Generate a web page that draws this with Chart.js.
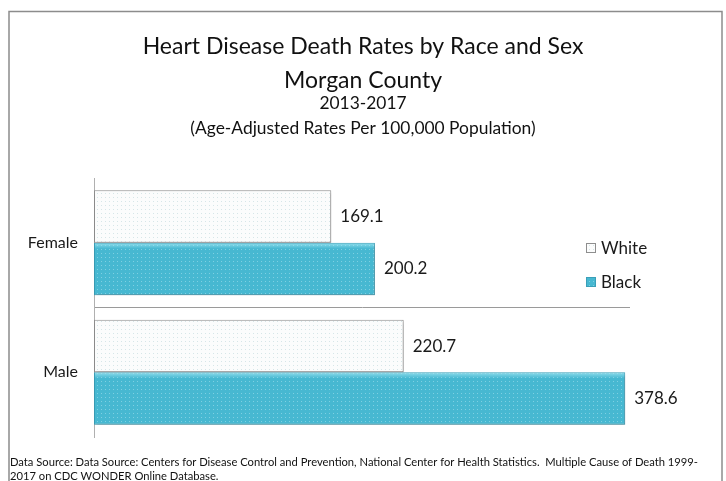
<!DOCTYPE html>
<html>
<head>
<meta charset="utf-8">
<script src="https://cdn.jsdelivr.net/npm/chart.js@4/dist/chart.umd.min.js"></script>
<style>
  html, body { margin: 0; padding: 0; background: #ffffff; }
  #wrap { width: 726px; height: 481px; position: relative; }
</style>
</head>
<body>
<div id="wrap"><canvas id="c" width="726" height="481"></canvas></div>
<script>
// Heart disease death rates, Morgan County, 2013-2017 (age-adjusted per 100,000)
const categories = ['Female', 'Male'];
const seriesNames = ['White', 'Black'];
const whiteRates = [169.1, 220.7];
const blackRates = [200.2, 378.6];

const titleLines = ['Heart Disease Death Rates by Race and Sex', 'Morgan County'];
const subtitleLines = ['2013-2017', '(Age-Adjusted Rates Per 100,000 Population)'];
const footerLines = [
  'Data Source: Data Source: Centers for Disease Control and Prevention, National Center for Health Statistics.  Multiple Cause of Death 1999-',
  '2017 on CDC WONDER Online Database.'
];

const FONT = 'Lato, "Open Sans", "Noto Sans", sans-serif';

// small dotted tiles used as bar fills
function dotPattern(base, dot) {
  const t = document.createElement('canvas');
  t.width = 4; t.height = 4;
  const g = t.getContext('2d');
  g.fillStyle = base; g.fillRect(0, 0, 4, 4);
  g.fillStyle = dot; g.fillRect(1, 1, 1, 1);
  return g.createPattern(t, 'repeat');
}
const ctx = document.getElementById('c').getContext('2d');
const whiteFill = dotPattern('#fbfcfc', '#d6e6e8');
const blackFill = dotPattern('#47b8d1', '#7fd0e2');

// outer frame, footer text and a soft drop shadow under the bars
const framePlugin = {
  id: 'frame',
  beforeDraw(chart) {
    const c = chart.ctx;
    c.save();
    c.strokeStyle = '#8c8c8c';
    c.lineWidth = 1.5;
    c.strokeRect(9, 11.5, 713, 480);
    c.restore();
  },
  beforeDatasetsDraw(chart) {
    const c = chart.ctx;
    c.save();
    c.shadowColor = 'rgba(0,0,0,0.2)';
    c.shadowOffsetY = 2;
    c.shadowOffsetX = 1;
    c.shadowBlur = 3;
  },
  afterDatasetsDraw(chart) {
    chart.ctx.restore();
  },
  afterDraw(chart) {
    const c = chart.ctx;
    c.save();
    c.fillStyle = '#111111';
    c.font = '11.2px ' + FONT;
    c.textBaseline = 'middle';
    c.textAlign = 'left';
    c.fillText(footerLines[0], 10, 462);
    c.fillText(footerLines[1], 10, 476);
    c.restore();
  }
};

// soft top highlight on the teal bars
const sheenPlugin = {
  id: 'sheen',
  afterDatasetDraw(chart, args) {
    if (args.index !== 1) return;
    const c = chart.ctx;
    c.save();
    c.shadowColor = 'rgba(0,0,0,0)';
    chart.getDatasetMeta(1).data.forEach(bar => {
      const top = bar.y - bar.height / 2;
      const left = Math.min(bar.x, bar.base);
      const w = Math.abs(bar.x - bar.base);
      const g = c.createLinearGradient(0, top, 0, top + 6);
      g.addColorStop(0, 'rgba(170,235,246,0.75)');
      g.addColorStop(1, 'rgba(170,235,246,0)');
      c.fillStyle = g;
      c.fillRect(left + 1, top + 1, w - 2, 6);
    });
    c.restore();
  }
};

// value labels beside each bar
const valueLabels = {
  id: 'valueLabels',
  afterDatasetsDraw(chart) {
    const c = chart.ctx;
    c.save();
    c.fillStyle = '#1a1a1a';
    c.font = '17px ' + FONT;
    c.textBaseline = 'middle';
    c.textAlign = 'left';
    chart.data.datasets.forEach((ds, i) => {
      chart.getDatasetMeta(i).data.forEach((bar, j) => {
        c.fillText(ds.data[j].toFixed(1), bar.x + 9, bar.y);
      });
    });
    c.restore();
  }
};

// legend placed inside the plot on the right
const sideLegend = {
  id: 'sideLegend',
  afterDraw(chart) {
    const c = chart.ctx;
    const rows = [248, 282];
    c.save();
    c.font = '17px ' + FONT;
    c.textBaseline = 'middle';
    c.textAlign = 'left';
    chart.data.datasets.forEach((ds, i) => {
      const y = rows[i];
      c.fillStyle = ds.backgroundColor;
      c.fillRect(586, y - 5, 10, 10);
      c.strokeStyle = ds.borderColor;
      c.lineWidth = 1;
      c.strokeRect(586.5, y - 4.5, 9, 9);
      c.fillStyle = '#1a1a1a';
      c.fillText(ds.label, 601, y + 1);
    });
    c.restore();
  }
};

new Chart(ctx, {
  type: 'bar',
  data: {
    labels: categories,
    datasets: [
      {
        label: seriesNames[0],
        data: whiteRates,
        backgroundColor: whiteFill,
        borderColor: '#8e8e8e',
        borderWidth: 1,
        borderSkipped: false
      },
      {
        label: seriesNames[1],
        data: blackRates,
        backgroundColor: blackFill,
        borderColor: '#3a9fb8',
        borderWidth: 1,
        borderSkipped: false
      }
    ]
  },
  options: {
    indexAxis: 'y',
    responsive: false,
    animation: false,
    devicePixelRatio: 1,
    layout: { padding: { left: 0, right: 0, top: 0, bottom: 44 } },
    datasets: {
      bar: { categoryPercentage: 0.81, barPercentage: 1.0 }
    },
    scales: {
      x: {
        display: false,
        min: 0,
        max: 382
      },
      y: {
        afterFit(scale) { scale.width = 94; },
        grid: {
          offset: true,
          drawTicks: false,
          color: c => (c.index === 1 ? '#9a9a9a' : 'rgba(0,0,0,0)'),
          lineWidth: 1
        },
        border: { display: true, color: '#b0b0b0', width: 1 },
        ticks: {
          padding: 16,
          color: '#1a1a1a',
          font: { family: FONT, size: 16 }
        }
      },
      // empty right-hand axis that reserves room for the value labels and legend
      yRight: {
        type: 'category',
        position: 'right',
        afterFit(scale) { scale.width = 96; },
        grid: { display: false },
        border: { display: false },
        ticks: { display: false }
      }
    },
    plugins: {
      legend: { display: false },
      tooltip: { enabled: false },
      title: {
        display: true,
        text: titleLines,
        color: '#111111',
        font: { family: FONT, size: 23, weight: 'normal', lineHeight: '34px' },
        padding: { top: 30, bottom: -7 }
      },
      subtitle: {
        display: true,
        text: subtitleLines,
        color: '#111111',
        font: { family: FONT, size: 17.4, weight: 'normal', lineHeight: '25px' },
        padding: { top: 0, bottom: 37 }
      }
    }
  },
  plugins: [framePlugin, sheenPlugin, valueLabels, sideLegend]
});
</script>
</body>
</html>
